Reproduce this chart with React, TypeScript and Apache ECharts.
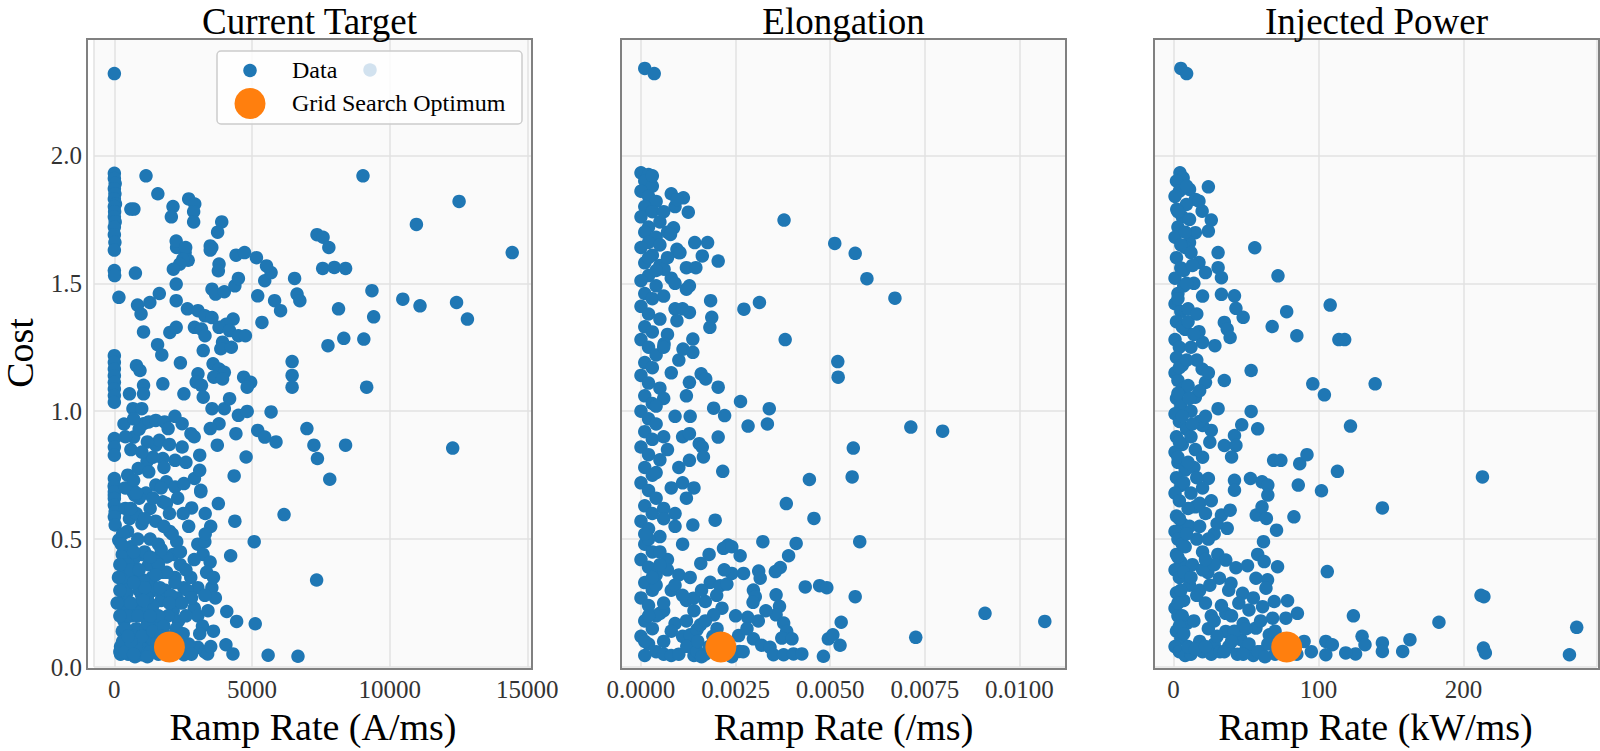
import { useEffect, useRef } from "react";
import * as echarts from "echarts";

// panel texts
const PANEL_TITLES = ["Current Target", "Elongation", "Injected Power"];
const X_AXIS_NAMES = ["Ramp Rate (A/ms)", "Ramp Rate (/ms)", "Ramp Rate (kW/ms)"];
const Y_AXIS_NAME = "Cost";
const LEGEND_LABELS = ["Data", "Grid Search Optimum"];

// axis ranges and tick steps
const X_LIMITS = [
  [-739, 15168],
  [-0.000528, 0.01123],
  [-13.5, 292],
];
const X_TICK_STEPS = [5000, 0.0025, 100];
const X_TICK_DECIMALS = [0, 4, 0];
const Y_LIMITS = [0, 2.455];
const Y_TICK_STEP = 0.5;

// [ramp rate, cost]
const CURRENT_TARGET_DATA = [
  [0, 2.32], [1150, 1.92], [1580, 1.85], [710, 1.79], [2130, 1.8], [2070, 1.76], [2700, 1.83], [2920, 1.81],
  [2880, 1.78], [2880, 1.74], [3900, 1.74], [3750, 1.7], [2260, 1.64], [2570, 1.62], [2680, 1.59], [3540, 1.64],
  [4420, 1.61], [4730, 1.62], [5160, 1.6], [9030, 1.92], [12520, 1.82], [10970, 1.73], [7360, 1.69], [7580, 1.68],
  [7790, 1.64], [14450, 1.62], [600, 1.79],
  [0, 1.93], [0, 1.91], [30, 1.89], [0, 1.87], [20, 1.85], [0, 1.83], [40, 1.81], [0, 1.8], [10, 1.78], [0, 1.76],
  [30, 1.74], [0, 1.72], [0, 1.69], [20, 1.66], [0, 1.63], [0, 1.55], [10, 1.53], [166, 1.445],
  [765, 1.54], [1633, 1.46], [1289, 1.425], [842, 1.415], [970, 1.38], [1060, 1.31], [1570, 1.26], [1723, 1.22],
  [2246, 1.665], [2590, 1.64], [2488, 1.594], [2373, 1.575], [2143, 1.555], [2246, 1.497], [2246, 1.432],
  [2654, 1.4], [3037, 1.393], [3292, 1.373], [3547, 1.366], [2909, 1.328], [3164, 1.321], [3292, 1.295],
  [2016, 1.308], [2246, 1.328], [3228, 1.237], [3483, 1.646], [3483, 1.63], [3802, 1.575], [3777, 1.549],
  [3547, 1.477], [3675, 1.458], [3994, 1.467], [4377, 1.49], [4505, 1.519], [4313, 1.36], [4058, 1.34],
  [3802, 1.328], [4185, 1.315], [4505, 1.295], [4760, 1.295], [3930, 1.27], [3866, 1.244], [4249, 1.25],
  [3585, 1.185], [3802, 1.165], [3994, 1.152], [3611, 1.133], [3930, 1.126], [3037, 1.146], [2973, 1.114],
  [3164, 1.101], [3228, 1.055], [2526, 1.068], [2399, 1.189], [1761, 1.107], [549, 1.068], [676, 1.01],
  [995, 1.01], [1060, 1.101], [1060, 1.068], [804, 1.178], [932, 1.159],
  [0, 1.217], [0, 1.191], [0, 1.165], [0, 1.139], [0, 1.113], [0, 1.087], [0, 1.061], [0, 1.035],
  [3547, 1.01], [3994, 1.01], [4185, 1.049], [4505, 0.984], [4824, 0.999], [3802, 0.951], [3483, 0.932],
  [4696, 1.133], [4951, 1.113], [4824, 1.094], [5207, 1.451], [5360, 1.347], [5462, 1.51], [5692, 1.542],
  [5526, 1.568], [5820, 1.432], [6037, 1.393], [6546, 1.519], [6635, 1.458], [6737, 1.432], [6456, 1.194],
  [6456, 1.14], [6456, 1.094], [5692, 0.997], [5207, 0.925], [5462, 0.899], [5871, 0.88], [4415, 0.912],
  [3739, 0.867], [4785, 0.821], [3100, 0.828], [4351, 0.747], [6993, 0.932], [7248, 0.867], [7376, 0.815],
  [7823, 0.734], [8397, 0.867], [7567, 1.558], [7988, 1.562], [8397, 1.558], [7758, 1.256], [8333, 1.285],
  [9060, 1.282], [8142, 1.4], [9355, 1.471], [9418, 1.369], [9163, 1.094], [10476, 1.438], [11101, 1.412],
  [12428, 1.425], [12823, 1.36], [12288, 0.856],
  [0, 0.893], [0, 0.86], [0, 0.828], [0, 0.737], [0, 0.704], [0, 0.672], [701, 0.899], [1060, 0.951],
  [1250, 0.958], [1506, 0.964], [1825, 0.958], [1953, 0.932], [1506, 0.867], [1633, 0.886], [2462, 0.951],
  [2782, 0.912], [2462, 0.86], [2207, 0.808], [1187, 0.804], [1761, 0.815], [485, 0.75], [868, 0.776],
  [1250, 0.763], [676, 0.691], [1506, 0.711], [1889, 0.724], [2207, 0.704], [2526, 0.717], [2909, 0.737],
  [3100, 0.769], [3139, 0.691],
  [676, 0.685], [740, 0.672], [1762, 0.646], [1889, 0.639], [2807, 0.622], [3139, 0.685], [3777, 0.639],
  [4377, 0.57], [6163, 0.596], [5079, 0.49], [4224, 0.435], [7346, 0.34], [4083, 0.217], [4441, 0.178],
  [5117, 0.169], [3031, 0.077], [3286, 0.059], [3388, 0.051], [4052, 0.087], [4307, 0.051], [5585, 0.046],
  [6669, 0.042], [2526, 0.048],
  [0, 0.71], [0, 0.685], [0, 0.659], [0, 0.633], [30, 0.607], [0, 0.587], [30, 0.555], [160, 0.496],
  [290, 0.44], [350, 0.39], [350, 0.33], [350, 0.28], [350, 0.23], [350, 0.18], [290, 0.14], [225, 0.08],
  [225, 0.05], [990, 0.44], [1245, 0.4], [1500, 0.425], [1755, 0.37], [1373, 0.35], [1245, 0.32], [990, 0.28],
  [735, 0.24], [1118, 0.2], [1500, 0.178], [1755, 0.139], [1245, 0.1], [607, 0.074], [990, 0.048],
  [2010, 0.53], [2265, 0.49], [2138, 0.44], [2393, 0.4], [2201, 0.35], [2520, 0.31], [2265, 0.27], [2138, 0.22],
  [2329, 0.18], [2393, 0.11], [3031, 0.48], [3286, 0.49], [3222, 0.44], [3478, 0.41], [3350, 0.37], [3031, 0.31],
  [3541, 0.31], [3669, 0.27], [3286, 0.28], [2775, 0.35], [2648, 0.3], [2903, 0.23], [3031, 0.2],
  [480, 0.53], [600, 0.47], [700, 0.42], [820, 0.36], [900, 0.3], [560, 0.34], [460, 0.29], [620, 0.2],
  [800, 0.15], [900, 0.11], [1050, 0.07], [1300, 0.06], [1600, 0.05], [1800, 0.08], [2100, 0.12], [2300, 0.06],
  [1950, 0.2], [1700, 0.26], [1400, 0.24], [1150, 0.15], [700, 0.12], [450, 0.1], [500, 0.05], [750, 0.04],
  [1100, 0.45], [1300, 0.5], [1600, 0.48], [1900, 0.43], [1050, 0.34], [850, 0.5], [500, 0.4], [1450, 0.3],
  [1850, 0.3], [2050, 0.28], [2250, 0.15], [2600, 0.2], [2700, 0.09], [2500, 0.13], [1300, 0.12], [1550, 0.1],
  [1000, 0.22], [1200, 0.27],
  [400, 0.62], [550, 0.58], [800, 0.6], [1000, 0.56], [1300, 0.62], [1500, 0.57], [1150, 0.68], [2000, 0.6],
  [2300, 0.66], [2700, 0.55], [3300, 0.6], [3500, 0.55], [2100, 0.52], [900, 0.66], [1700, 0.7], [300, 0.52],
  [400, 0.7], [700, 0.73], [350, 0.95], [400, 0.9], [600, 0.85], [900, 0.93], [1200, 0.88], [2000, 0.87],
  [2200, 0.98], [1800, 0.78], [1400, 0.82], [1000, 0.84], [2600, 0.8], [2900, 0.9], [700, 0.97],
  [200, 0.06], [300, 0.1], [400, 0.15], [500, 0.2], [600, 0.25], [400, 0.3], [300, 0.35], [600, 0.38],
  [700, 0.45], [250, 0.48], [800, 0.08], [1000, 0.12], [1200, 0.17], [1400, 0.14], [1600, 0.2], [1800, 0.16],
  [2000, 0.25], [2200, 0.33], [1900, 0.37], [1600, 0.4], [1300, 0.43], [1700, 0.46], [2400, 0.45], [2600, 0.38],
  [2800, 0.27], [3200, 0.16], [3400, 0.22], [3600, 0.35], [2900, 0.42], [3300, 0.52], [600, 0.62], [800, 0.68],
  [1100, 0.58], [1400, 0.66], [1800, 0.55], [2500, 0.6], [200, 0.3], [200, 0.2], [200, 0.4], [100, 0.25],
  [150, 0.35], [900, 0.38], [1100, 0.31], [700, 0.33], [1500, 0.36], [1700, 0.12], [2000, 0.05], [1200, 0.04],
  [400, 0.06], [600, 0.1], [850, 0.2], [1050, 0.26], [1300, 0.2], [1650, 0.31], [2450, 0.25], [2150, 0.07],
  [2800, 0.05], [3100, 0.13], [3500, 0.08], [3600, 0.14], [500, 0.12], [700, 0.05],
];

const ELONGATION_DATA = [
  [0.0001, 2.34], [0.00035, 2.32],
  [0, 1.932], [0.0002, 1.925], [0.0001, 1.9], [0.0003, 1.88], [0, 1.86], [0.0002, 1.84], [0.0004, 1.82],
  [0.0001, 1.8], [0.0003, 1.78], [0, 1.76], [0.0005, 1.74], [0.0002, 1.72], [0.0001, 1.7], [0.0004, 1.68],
  [0.0002, 1.66], [0, 1.64], [0.0003, 1.61], [0.0001, 1.58], [0.0005, 1.57], [0.0002, 1.53], [0, 1.51],
  [0.0004, 1.49], [0.0001, 1.46], [0.0003, 1.44], [0, 1.41], [0.0002, 1.38], [0.0005, 1.36], [0.0001, 1.33],
  [0.0003, 1.31], [0, 1.28], [0.0002, 1.25], [0.0004, 1.22], [0.0001, 1.19], [0.0003, 1.17], [0, 1.14],
  [0.0002, 1.11], [0.0005, 1.09], [0.0001, 1.06], [0.0003, 1.03], [0, 1.0], [0.0002, 0.97], [0.0004, 0.95],
  [0.0001, 0.92], [0.0003, 0.89], [0, 0.86], [0.0002, 0.83], [0.0005, 0.81], [0.0001, 0.78], [0.0003, 0.75],
  [0, 0.72], [0.0002, 0.69], [0.0004, 0.66], [0.0001, 0.63], [0.0003, 0.6], [0, 0.57], [0.0002, 0.54],
  [0.0005, 0.51], [0.0001, 0.48], [0.0003, 0.45], [0, 0.42], [0.0002, 0.39], [0.0004, 0.36], [0.0001, 0.33],
  [0.0003, 0.3], [0, 0.27], [0.0002, 0.24], [0.0005, 0.21], [0.0001, 0.18], [0.0003, 0.15], [0, 0.12],
  [0.0002, 0.09], [0.0004, 0.06], [0.0001, 0.045], [0.0006, 0.05], [0.0008, 0.045],
  [0.0008, 1.85], [0.0009, 1.8], [0.0007, 1.7], [0.001, 1.62], [0.0008, 1.52], [0.0006, 1.45], [0.0009, 1.4],
  [0.0007, 1.3], [0.001, 1.2], [0.0008, 1.15], [0.0006, 1.05], [0.0009, 0.98], [0.0011, 0.9], [0.0007, 0.85],
  [0.001, 0.78], [0.0008, 0.7], [0.0006, 0.62], [0.0009, 0.55], [0.0011, 0.48], [0.0007, 0.42], [0.001, 0.36],
  [0.0008, 0.3], [0.0012, 0.26], [0.0006, 0.22], [0.0009, 0.17], [0.0011, 0.12], [0.0013, 0.08], [0.001, 0.05],
  [0.0014, 0.045], [0.0017, 0.05],
  [0.00112, 1.834], [0.00125, 1.778], [0.00095, 1.828], [0.00378, 1.747], [0.00512, 1.656], [0.00566, 1.617],
  [0.00597, 1.518], [0.00671, 1.442], [0.00142, 1.659], [0.00176, 1.659], [0.00086, 1.717], [0.00078, 1.691],
  [0.00095, 1.633], [0.00103, 1.62], [0.00162, 1.607], [0.00204, 1.587], [0.0012, 1.561], [0.00145, 1.561],
  [0.00061, 1.555], [0.00128, 1.49], [0.0012, 1.477], [0.00184, 1.432], [0.00313, 1.425], [0.00272, 1.399],
  [0.00187, 1.367], [0.00182, 1.328], [0.00128, 1.386], [0.00095, 1.354], [0.00381, 1.28], [0.00137, 1.282],
  [0.00111, 1.243], [0.00137, 1.23], [0.00061, 1.263], [0.0052, 1.194], [0.00521, 1.133], [0.00159, 1.146],
  [0.00171, 1.126], [0.00128, 1.113], [0.00204, 1.094], [0.00263, 1.038], [0.00339, 1.01], [0.00221, 0.983],
  [0.00192, 1.012], [0.00283, 0.942], [0.00334, 0.95], [0.00713, 0.938], [0.00797, 0.922], [0.00204, 0.899],
  [0.00128, 0.912], [0.00154, 0.873], [0.00162, 0.86], [0.00561, 0.856], [0.00165, 0.821], [0.00128, 0.808],
  [0.00216, 0.765], [0.00445, 0.733], [0.00558, 0.743], [0.00384, 0.639], [0.00457, 0.581], [0.00196, 0.574],
  [0.00137, 0.555], [0.0023, 0.477], [0.00322, 0.49], [0.0041, 0.483], [0.00578, 0.49],
  [0.0039, 0.435], [0.00368, 0.389], [0.00355, 0.373], [0.00218, 0.464], [0.0024, 0.47], [0.00262, 0.435],
  [0.00158, 0.405], [0.0024, 0.366], [0.00271, 0.366], [0.00311, 0.375], [0.00315, 0.347], [0.00183, 0.331],
  [0.00209, 0.318], [0.00227, 0.324], [0.00297, 0.301], [0.00302, 0.275], [0.00296, 0.253], [0.00357, 0.282],
  [0.00434, 0.313], [0.00472, 0.318], [0.00491, 0.31], [0.00566, 0.275], [0.00366, 0.237], [0.00357, 0.204],
  [0.00377, 0.172], [0.00385, 0.139], [0.00214, 0.23], [0.00192, 0.204], [0.00139, 0.269], [0.0017, 0.256],
  [0.00282, 0.194], [0.00529, 0.175], [0.00909, 0.21], [0.01067, 0.178], [0.00726, 0.116], [0.00495, 0.11],
  [0.00507, 0.126], [0.00526, 0.085], [0.00482, 0.042], [0.00297, 0.11], [0.00258, 0.123], [0.00319, 0.085],
  [0.00341, 0.077], [0.0035, 0.048], [0.00377, 0.048], [0.00403, 0.051], [0.00425, 0.051], [0.00372, 0.113],
  [0.00399, 0.11], [0.0026, 0.061], [0.00201, 0.15], [0.0013, 0.126], [0.00148, 0.146], [0.00157, 0.165],
  [0.00121, 0.081], [0.00148, 0.061],
  [0.0005, 0.45], [0.0007, 0.38], [0.0009, 0.32], [0.0011, 0.28], [0.0006, 0.25], [0.0004, 0.2], [0.0008, 0.14],
  [0.0012, 0.18], [0.0014, 0.22], [0.0016, 0.3], [0.0013, 0.35], [0.0015, 0.1], [0.0018, 0.08], [0.0006, 0.1],
  [0.0004, 0.32], [0.0006, 0.58], [0.0004, 0.76], [0.0006, 0.9], [0.0004, 1.02], [0.0006, 1.25], [0.0004, 1.55],
  [0.0006, 1.78], [0.0003, 1.92], [0.0002, 1.6], [0.0005, 0.4], [0.0009, 0.6], [0.0012, 0.66], [0.0011, 0.72],
  [0.0014, 0.7], [0.0013, 0.98], [0.0012, 1.06], [0.0011, 1.4], [0.0009, 1.5], [0.0007, 1.6], [0.0005, 1.65],
  [0.0002, 0.5], [0.0001, 0.52], [0.0003, 0.35], [0.0002, 0.2], [0.0001, 0.1], [0.0019, 0.12], [0.0021, 0.05],
  [0.0024, 0.04], [0.0027, 0.06], [0.0016, 0.04], [0.002, 0.28], [0.0022, 0.38], [0.0018, 0.44], [0.0017, 0.18],
  [0.0025, 0.2], [0.0028, 0.15], [0.0031, 0.18], [0.0033, 0.22],
];

const INJECTED_POWER_DATA = [
  [5, 2.34], [9, 2.32],
  [4.4, 1.932], [6.6, 1.912], [24, 1.877], [11, 1.867], [15, 1.828], [8.8, 1.808], [2.2, 1.789], [19.7, 1.782],
  [17.5, 1.821], [26, 1.747], [24, 1.704], [15, 1.698], [11, 1.659], [56, 1.639], [30.7, 1.62], [17.5, 1.581],
  [30.7, 1.561], [22, 1.542], [33, 1.522], [72, 1.529], [33, 1.457], [42, 1.451], [43, 1.402], [48, 1.367],
  [35, 1.347], [37, 1.321], [39, 1.288], [28.5, 1.256], [20, 1.269], [17.5, 1.311], [78, 1.389], [108, 1.415],
  [68, 1.331], [85, 1.295], [114, 1.28], [118, 1.28], [53.5, 1.159], [19.7, 1.165], [35, 1.12], [22, 1.113],
  [15, 1.055], [96, 1.107], [104, 1.064], [139, 1.107], [30.7, 1.01], [53.5, 0.999], [47, 0.947], [58, 0.931],
  [26, 0.925], [20, 0.944], [122, 0.942], [42, 0.905], [35, 0.866], [43, 0.866], [25, 0.879], [40, 0.821],
  [69, 0.808], [74, 0.808], [87, 0.795], [92, 0.83], [113, 0.765], [213, 0.743], [24, 0.737], [42, 0.73],
  [53, 0.737], [61, 0.724], [65, 0.711], [42, 0.691], [65, 0.672], [86, 0.711], [102, 0.689], [15, 0.626],
  [33, 0.594], [39, 0.613], [37, 0.542], [57, 0.594], [61, 0.626], [64, 0.581], [83, 0.587], [71, 0.535],
  [144, 0.622], [62, 0.49],
  [30.5, 0.44], [36, 0.418], [43, 0.388], [51, 0.396], [58, 0.44], [62.5, 0.412], [71.7, 0.392], [106, 0.373],
  [23.6, 0.37], [31.6, 0.347], [39.6, 0.327], [47.6, 0.288], [56.8, 0.347], [64.8, 0.341], [63.7, 0.308],
  [69.4, 0.256], [78.6, 0.259], [85.4, 0.21], [77.4, 0.191], [36, 0.21], [52, 0.223], [61.4, 0.236], [68.3, 0.191],
  [214, 0.275], [212, 0.28], [124, 0.2], [183, 0.175], [278, 0.155], [36, 0.139], [46.5, 0.107], [56.8, 0.152],
  [66, 0.126], [130, 0.12], [132, 0.087], [144, 0.094], [144, 0.061], [163, 0.107], [158, 0.061], [125.5, 0.051],
  [118.7, 0.055], [90, 0.1], [105, 0.1], [109.5, 0.087], [105, 0.048], [213.7, 0.074], [215, 0.055], [273, 0.048],
  [2, 1.9], [4, 1.86], [1, 1.84], [6, 1.76], [3, 1.72], [1, 1.68], [8, 1.64], [2, 1.6], [5, 1.56], [1, 1.52],
  [7, 1.49], [3, 1.46], [1, 1.42], [5, 1.39], [2, 1.35], [8, 1.32], [1, 1.28], [4, 1.25], [2, 1.21], [6, 1.18],
  [1, 1.15], [3, 1.12], [7, 1.09], [2, 1.05], [5, 1.02], [1, 0.99], [4, 0.96], [9, 0.93], [2, 0.9], [6, 0.87],
  [1, 0.84], [3, 0.8], [8, 0.77], [2, 0.74], [5, 0.71], [1, 0.68], [4, 0.65], [10, 0.62], [2, 0.59], [6, 0.56],
  [1, 0.53], [3, 0.5], [8, 0.47], [2, 0.44], [5, 0.41], [1, 0.38], [4, 0.35], [11, 0.32], [2, 0.29], [7, 0.26],
  [1, 0.23], [3, 0.2], [9, 0.17], [2, 0.14], [5, 0.11], [1, 0.08], [4, 0.06], [8, 0.045], [12, 0.05],
  [12, 1.62], [14, 1.5], [10, 1.4], [16, 1.2], [12, 1.0], [18, 0.96], [14, 0.78], [20, 0.7], [11, 0.55],
  [16, 0.5], [20, 0.45], [13, 0.4], [18, 0.3], [22, 0.25], [14, 0.18], [24, 0.15], [18, 0.1], [28, 0.09],
  [20, 0.06], [26, 0.05], [32, 0.06], [38, 0.08], [44, 0.05], [50, 0.07], [55, 0.045], [60, 0.06], [65, 0.09],
  [70, 0.05], [30, 0.12], [42, 0.14], [48, 0.17], [26, 0.2], [12, 0.9], [15, 0.85], [10, 1.1], [14, 1.3],
  [22, 0.6], [28, 0.52], [18, 0.64],
  [3, 1.78], [5, 1.65], [7, 1.55], [3, 1.44], [6, 1.33], [4, 1.17], [3, 1.07], [6, 0.98], [4, 0.88], [3, 0.82],
  [7, 0.72], [4, 0.58], [6, 0.48], [3, 0.43], [7, 0.37], [5, 0.3], [3, 0.25], [6, 0.2], [4, 0.16], [7, 0.13],
  [10, 0.08], [15, 0.07], [22, 0.08], [35, 0.06], [40, 0.1], [52, 0.09], [58, 0.06], [63, 0.04], [75, 0.06],
  [12, 0.35], [16, 0.28], [20, 0.38], [25, 0.32], [28, 0.4], [22, 0.42], [9, 0.52], [12, 0.68], [16, 0.74],
  [10, 0.8], [13, 0.95], [11, 1.05], [9, 1.2], [12, 1.25], [10, 1.35], [9, 1.5], [13, 1.57], [8, 1.7], [11, 1.75],
  [9, 1.88], [45, 0.25], [50, 0.15], [40, 0.2], [33, 0.24], [28, 0.18], [38, 0.3], [55, 0.27], [60, 0.18],
  [70, 0.14], [48, 0.05], [85, 0.05], [95, 0.06], [18, 0.55], [24, 0.5], [30, 0.56], [26, 0.65], [20, 0.82],
  [22, 0.98], [18, 1.08], [24, 1.15], [16, 1.38], [20, 1.45],
];

const GRID_SEARCH_OPTIMA = [
  [2000, 0.078],
  [0.00211, 0.078],
  [78, 0.078],
];

const PANEL_DATA = [CURRENT_TARGET_DATA, ELONGATION_DATA, INJECTED_POWER_DATA];

// layout
const PANEL_LEFTS = [87, 621, 1154];
const PANEL_TOP = 39;
const PANEL_WIDTH = 445;
const PANEL_HEIGHT = 630;
const FONT = "Liberation Serif";
const BLUE = "#1f77b4";
const ORANGE = "#ff7f0e";

const tickFormatter = (step: number, decimals: number) => (v: number) => {
  const k = v / step;
  if (Math.abs(k - Math.round(k)) > 1e-6) return "";
  return (Math.round(k) * step).toFixed(decimals);
};

function buildOption() {
  const grid = PANEL_LEFTS.map((left) => ({
    left,
    top: PANEL_TOP,
    width: PANEL_WIDTH,
    height: PANEL_HEIGHT,
    show: true,
    backgroundColor: "#fafafa",
    borderWidth: 0,
  }));

  const xAxis = PANEL_LEFTS.map((_, i) => ({
    type: "value",
    gridIndex: i,
    min: X_LIMITS[i][0],
    max: X_LIMITS[i][1],
    minInterval: X_TICK_STEPS[i],
    maxInterval: X_TICK_STEPS[i],
    splitNumber: 4,
    name: X_AXIS_NAMES[i],
    nameLocation: "middle",
    nameGap: 41,
    nameTextStyle: { fontFamily: FONT, fontSize: 38, color: "#000" },
    axisLine: { show: false },
    axisTick: { show: false },
    axisLabel: {
      fontFamily: FONT,
      fontSize: 25,
      color: "#333",
      margin: 22,
      verticalAlign: "middle",
      formatter: tickFormatter(X_TICK_STEPS[i], X_TICK_DECIMALS[i]),
    },
    splitLine: { show: true, lineStyle: { color: "#e2e2e2", width: 1.5 } },
  }));

  const yAxis = PANEL_LEFTS.map((_, i) => ({
    type: "value",
    gridIndex: i,
    min: Y_LIMITS[0],
    max: Y_LIMITS[1],
    interval: Y_TICK_STEP,
    name: i === 0 ? Y_AXIS_NAME : "",
    nameLocation: "middle",
    nameGap: 55,
    nameTextStyle: { fontFamily: FONT, fontSize: 38, color: "#000" },
    axisLine: { show: false },
    axisTick: { show: false },
    axisLabel: {
      show: i === 0,
      fontFamily: FONT,
      fontSize: 25,
      color: "#333",
      margin: 12,
      formatter: tickFormatter(Y_TICK_STEP, 1),
    },
    splitLine: { show: true, lineStyle: { color: "#e2e2e2", width: 1.5 } },
  }));

  const series: any[] = [];
  PANEL_DATA.forEach((data, i) => {
    series.push({
      name: LEGEND_LABELS[0],
      type: "scatter",
      xAxisIndex: i,
      yAxisIndex: i,
      data,
      symbolSize: 13.5,
      itemStyle: { color: BLUE, opacity: 1 },
      z: 2,
    });
    series.push({
      name: LEGEND_LABELS[1],
      type: "scatter",
      xAxisIndex: i,
      yAxisIndex: i,
      data: [GRID_SEARCH_OPTIMA[i]],
      symbolSize: 31,
      itemStyle: { color: ORANGE, opacity: 1 },
      z: 3,
    });
  });

  const graphic: any[] = [];
  PANEL_LEFTS.forEach((left, i) => {
    // 边框
    graphic.push({
      type: "rect",
      z: 100,
      silent: true,
      shape: { x: left, y: PANEL_TOP, width: PANEL_WIDTH, height: PANEL_HEIGHT },
      style: { fill: "none", stroke: "#808080", lineWidth: 2 },
    });
    graphic.push({
      type: "text",
      z: 100,
      x: left + PANEL_WIDTH / 2,
      y: 21,
      style: {
        text: PANEL_TITLES[i],
        fontFamily: FONT,
        fontSize: 37,
        fill: "#000",
        align: "center",
        verticalAlign: "middle",
        textAlign: "center",
        textVerticalAlign: "middle",
      },
    });
  });

  // 图例
  graphic.push(
    {
      type: "rect",
      z: 110,
      shape: { x: 217, y: 51, width: 305, height: 73, r: 4 },
      style: { fill: "rgba(255,255,255,0.8)", stroke: "#cccccc", lineWidth: 1.5 },
    },
    {
      type: "circle",
      z: 111,
      shape: { cx: 250, cy: 70.5, r: 6.75 },
      style: { fill: BLUE },
    },
    {
      type: "circle",
      z: 111,
      shape: { cx: 370, cy: 70, r: 6.75 },
      style: { fill: "#d2e2ef" },
    },
    {
      type: "circle",
      z: 111,
      shape: { cx: 250, cy: 103.5, r: 15.5 },
      style: { fill: ORANGE },
    },
    {
      type: "text",
      z: 111,
      x: 292,
      y: 70,
      style: {
        text: LEGEND_LABELS[0],
        fontFamily: FONT,
        fontSize: 24,
        fill: "#000",
        verticalAlign: "middle",
        textVerticalAlign: "middle",
      },
    },
    {
      type: "text",
      z: 111,
      x: 292,
      y: 103,
      style: {
        text: LEGEND_LABELS[1],
        fontFamily: FONT,
        fontSize: 24,
        fill: "#000",
        verticalAlign: "middle",
        textVerticalAlign: "middle",
      },
    },
  );

  return {
    animation: false,
    backgroundColor: "#ffffff",
    grid,
    xAxis,
    yAxis,
    series,
    graphic,
  };
}

export default function App() {
  const chartRef = useRef<HTMLDivElement>(null);

  useEffect(() => {
    document.body.style.margin = "0";
    if (!chartRef.current) return;
    const chart = echarts.init(chartRef.current, undefined, { renderer: "svg" });
    chart.setOption(buildOption() as any);
    return () => {
      chart.dispose();
    };
  }, []);

  return <div ref={chartRef} style={{ width: 1600, height: 751 }} />;
}
